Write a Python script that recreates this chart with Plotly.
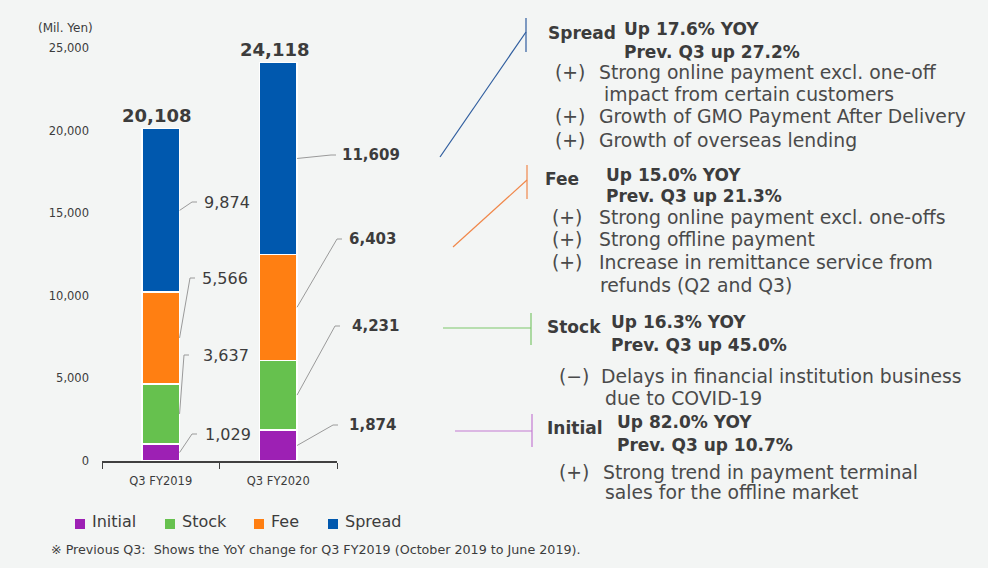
import plotly.graph_objects as go

# ---------------- data ----------------
categories = ["Q3 FY2019", "Q3 FY2020"]
initial = [1029, 1874]
stock = [3637, 4231]
fee = [5566, 6403]
spread = [9874, 11609]
totals = [20108, 24118]
series_names = ["Initial", "Stock", "Fee", "Spread"]
series_colors = ["#9D20B4", "#66C14E", "#FF7F12", "#0058AE"]
y_ticks = [0, 5000, 10000, 15000, 20000, 25000]

# ---------------- layout helpers (pixel -> paper) ----------------
W, H = 988, 568
L, R, T, B = 102, 337, 48, 461
YMAX = 25000


def px(x):
    return (x - L) / (R - L)


def py(y):
    return (B - y) / (B - T)


FONT = "DejaVu Sans"
DARK = "#3c3c3c"
BODY = "#4a4a4a"

fig = go.Figure()
series_values = [initial, stock, fee, spread]
for name, vals, col in zip(series_names, series_values, series_colors):
    fig.add_trace(go.Bar(
        x=categories, y=vals, name=name, showlegend=False,
        marker=dict(color=col, line=dict(color="white", width=1.2)),
        hoverinfo="x+y+name",
    ))

annotations = []
shapes = []

# totals above bars
for cat, tot in zip(categories, totals):
    annotations.append(dict(
        x=cat, y=tot, xref="x", yref="y", text=f"<b>{tot:,}</b>",
        showarrow=False, yanchor="bottom", yshift=1, xshift=-4,
        font=dict(family=FONT, size=18, color=DARK)))

# segment labels with elbow leaders (start at segment midpoint on bar edge)
bar_half = 0.16  # in category units
label_pixel_y = [[434, 355, 278, 202], [425, 326, 239, 155]]
label_pixel_x = [[203, 201, 200, 202], [347, 350, 347, 340]]
elbow_pixel_x = [[192, 184, 190, 192], [333, 335, 337, 331]]
for ci in range(2):
    cum = 0
    for si, vals in enumerate(series_values):
        v = vals[ci]
        mid = cum + v / 2
        cum += v
        edge_x = px(L + (ci + 0.5) * (R - L) / 2) + bar_half / 2
        ly = label_pixel_y[ci][si]
        ex = elbow_pixel_x[ci][si]
        shapes.append(dict(type="line", xref="paper", yref="paper",
                           x0=edge_x, y0=mid / YMAX, x1=px(ex), y1=py(ly),
                           line=dict(color="#9a9a9a", width=1)))
        shapes.append(dict(type="line", xref="paper", yref="paper",
                           x0=px(ex), y0=py(ly), x1=px(ex + 5), y1=py(ly),
                           line=dict(color="#9a9a9a", width=1)))
        txt = f"{v:,}" if ci == 0 else f"<b>{v:,}</b>"
        annotations.append(dict(
            x=px(label_pixel_x[ci][si]), y=py(ly),
            xref="paper", yref="paper", text=txt, showarrow=False,
            xanchor="left", yanchor="middle",
            font=dict(family=FONT, size=16 if ci == 0 else 15, color=DARK)))

# legend (drawn compactly like the reference)
legend_marker_x = [75, 165, 254, 328]
for name, col, mx in zip(series_names, series_colors, legend_marker_x):
    shapes.append(dict(type="rect", xref="paper", yref="paper",
                       x0=px(mx), x1=px(mx + 10), y0=py(529), y1=py(519),
                       fillcolor=col, line=dict(width=0)))
    annotations.append(dict(x=px(mx + 15), y=py(521), xref="paper", yref="paper",
                            text=name, showarrow=False, xanchor="left", yanchor="middle",
                            font=dict(family=FONT, size=16, color=DARK)))

# unit label
annotations.append(dict(x=px(95), y=py(28), xref="paper", yref="paper",
                        text="(Mil. Yen)", showarrow=False, xanchor="right",
                        yanchor="middle", font=dict(family=FONT, size=12, color=DARK)))

# footnote
annotations.append(dict(x=px(49), y=py(549), xref="paper", yref="paper",
                        text="※ Previous Q3:  Shows the YoY change for Q3 FY2019 (October 2019 to June 2019).",
                        showarrow=False, xanchor="left", yanchor="middle",
                        font=dict(family=FONT, size=12.7, color=DARK)))

# right-hand commentary: connectors
connectors = [
    ("#2f5d9e", (440, 157), (526, 32), (526, 18, 52)),
    ("#f0874a", (453, 247), (527, 180), (527, 165, 199)),
    ("#7cc76a", (443, 328), (531, 328), (531, 313, 345)),
    ("#c47ad2", (455, 431), (532, 431), (532, 414, 447)),
]
for col, p0, p1, vline in connectors:
    shapes.append(dict(type="line", xref="paper", yref="paper",
                       x0=px(p0[0]), y0=py(p0[1]), x1=px(p1[0]), y1=py(p1[1]),
                       line=dict(color=col, width=1.2)))
    shapes.append(dict(type="line", xref="paper", yref="paper",
                       x0=px(vline[0]), y0=py(vline[1]), x1=px(vline[0]), y1=py(vline[2]),
                       line=dict(color=col, width=1.2)))

# right-hand commentary: text lines (text, x, y, bold)
commentary = [
    ("Spread", 546, 33, True),
    ("Up 17.6% YOY", 622, 29, True),
    ("Prev. Q3 up 27.2%", 622, 52, True),
    ("(+)", 553, 72, False),
    ("Strong online payment excl. one-off", 597, 72, False),
    ("impact from certain customers", 602, 94, False),
    ("(+)", 553, 117, False),
    ("Growth of GMO Payment After Delivery", 597, 117, False),
    ("(+)", 553, 140, False),
    ("Growth of overseas lending", 597, 140, False),
    ("Fee", 543, 179, True),
    ("Up 15.0% YOY", 604, 175, True),
    ("Prev. Q3 up 21.3%", 604, 196, True),
    ("(+)", 550, 217, False),
    ("Strong online payment excl. one-offs", 597, 217, False),
    ("(+)", 550, 239, False),
    ("Strong offline payment", 597, 239, False),
    ("(+)", 550, 262, False),
    ("Increase in remittance service from", 597, 262, False),
    ("refunds (Q2 and Q3)", 598, 285, False),
    ("Stock", 545, 327, True),
    ("Up 16.3% YOY", 609, 322, True),
    ("Prev. Q3 up 45.0%", 609, 345, True),
    ("(−)", 557, 376, False),
    ("Delays in financial institution business", 599, 376, False),
    ("due to COVID-19", 603, 398, False),
    ("Initial", 545, 428, True),
    ("Up 82.0% YOY", 615, 422, True),
    ("Prev. Q3 up 10.7%", 615, 445, True),
    ("(+)", 557, 472, False),
    ("Strong trend in payment terminal", 601, 472, False),
    ("sales for the offline market", 603, 493, False),
]
for text, x, y, bold in commentary:
    annotations.append(dict(
        x=px(x), y=py(y), xref="paper", yref="paper",
        text=f"<b>{text}</b>" if bold else text, showarrow=False,
        xanchor="left", yanchor="middle",
        font=dict(family=FONT, size=17 if bold else 18.8, color=DARK if bold else BODY)))

fig.update_layout(
    width=W, height=H,
    barmode="stack", bargap=0.68,
    paper_bgcolor="#F3F5F4", plot_bgcolor="#F3F5F4",
    margin=dict(l=L, r=W - R, t=T, b=H - B, autoexpand=False),
    font=dict(family=FONT, color=DARK),
    showlegend=False,
    xaxis=dict(showline=True, linecolor="#404040", linewidth=1.5,
               ticks="outside", tickson="boundaries", ticklen=6, tickcolor="#404040",
               ticklabelstandoff=8,
               tickfont=dict(family=FONT, size=11.5, color=DARK), fixedrange=True),
    yaxis=dict(range=[0, YMAX], tickvals=y_ticks, tickformat=",",
               showgrid=False, zeroline=False, showline=False,
               ticklabelstandoff=12,
               tickfont=dict(family=FONT, size=11.5, color=DARK), fixedrange=True),
    annotations=annotations, shapes=shapes,
)

fig.write_html("out.html", config={"displayModeBar": False},
               post_script="document.body.style.margin='0';document.body.style.background='#F3F5F4';")
